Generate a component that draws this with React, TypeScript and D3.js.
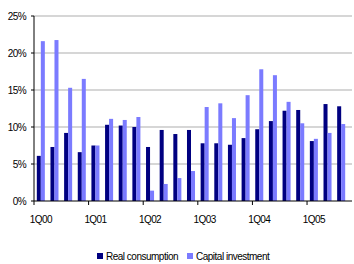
import React from "react";
import * as d3 from "d3";

const quarters = [
  "1Q00", "2Q00", "3Q00", "4Q00",
  "1Q01", "2Q01", "3Q01", "4Q01",
  "1Q02", "2Q02", "3Q02", "4Q02",
  "1Q03", "2Q03", "3Q03", "4Q03",
  "1Q04", "2Q04", "3Q04", "4Q04",
  "1Q05", "2Q05", "3Q05",
];
const realConsumption = [
  6.1, 7.3, 9.2, 6.6,
  7.5, 10.3, 10.2, 10.0,
  7.3, 9.6, 9.05, 9.6,
  7.8, 7.8, 7.6, 8.5,
  9.7, 10.8, 12.2, 12.3,
  8.1, 13.1, 12.8,
];
const capitalInvestment = [
  21.6, 21.75, 15.3, 16.5,
  7.5, 11.1, 10.95, 11.35,
  1.4, 2.3, 3.1, 4.05,
  12.7, 13.2, 11.2, 14.3,
  17.8, 17.0, 13.4, 10.5,
  8.4, 9.2, 10.4,
];
const yTicks = [0, 5, 10, 15, 20, 25];
const seriesNames = ["Real consumption", "Capital investment"];
const colors = ["#000080", "#7B7BFF"];

export default function App() {
  const width = 354, height = 264;
  const margin = { l: 34, r: 6, t: 16, b: 63 };
  const font = "'Liberation Sans', Arial, sans-serif";

  const x = d3.scaleBand<string>().domain(quarters).range([margin.l, width - margin.r]);
  const y = d3.scaleLinear().domain([0, 25]).range([height - margin.b, margin.t]);
  const inner = d3.scaleBand<string>().domain(["a", "b"]).range([0, x.bandwidth()]).paddingOuter(0.7).paddingInner(0);

  const series = [realConsumption, capitalInvestment];
  const yearStarts = quarters.map((q, i) => i).filter(i => i % 4 === 0);

  return (
    <svg width={width} height={height} style={{ position: "absolute", left: 0, top: 0, background: "#fff" }}>
      {yTicks.map(t => (
        <g key={t}>
          {t > 0 && <line x1={margin.l} x2={width - margin.r + 4} y1={y(t)} y2={y(t)} stroke="#c8c8c8" strokeWidth={1.5} />}
          <line x1={margin.l - 3} x2={margin.l} y1={y(t)} y2={y(t)} stroke="#000" />
          <text x={26} y={y(t) + 3.5} textAnchor="end" fontSize={10} fontFamily={font} letterSpacing={-0.6} fill="#000">{t}%</text>
        </g>
      ))}

      {quarters.map((q, i) => series.map((s, k) => (
        <rect key={q + k}
          x={(x(q) ?? 0) + (inner(k === 0 ? "a" : "b") ?? 0)}
          y={y(s[i])}
          width={inner.bandwidth()}
          height={y(0) - y(s[i])}
          fill={colors[k]} />
      )))}

      <line x1={margin.l} x2={margin.l} y1={y(25)} y2={y(0)} stroke="#000" />
      <line x1={margin.l} x2={width - margin.r + 4} y1={y(0)} y2={y(0)} stroke="#000" />
      {yearStarts.map(i => (
        <g key={i}>
          <line x1={x(quarters[i]) ?? 0} x2={x(quarters[i]) ?? 0} y1={y(0)} y2={y(0) + 4} stroke="#000" />
          <text x={(x(quarters[i]) ?? 0) + x.bandwidth() / 2} y={y(0) + 22} textAnchor="middle" fontSize={10} fontFamily={font} letterSpacing={-0.6} fill="#000">{quarters[i]}</text>
        </g>
      ))}

      {seriesNames.map((n, k) => (
        <g key={n} transform={`translate(${k === 0 ? 97 : 187},253)`}>
          <rect x={0} y={0} width={6} height={6} fill={colors[k]} />
          <text x={9} y={7} fontSize={10} fontFamily={font} letterSpacing={-0.5} fill="#000">{n}</text>
        </g>
      ))}
    </svg>
  );
}
